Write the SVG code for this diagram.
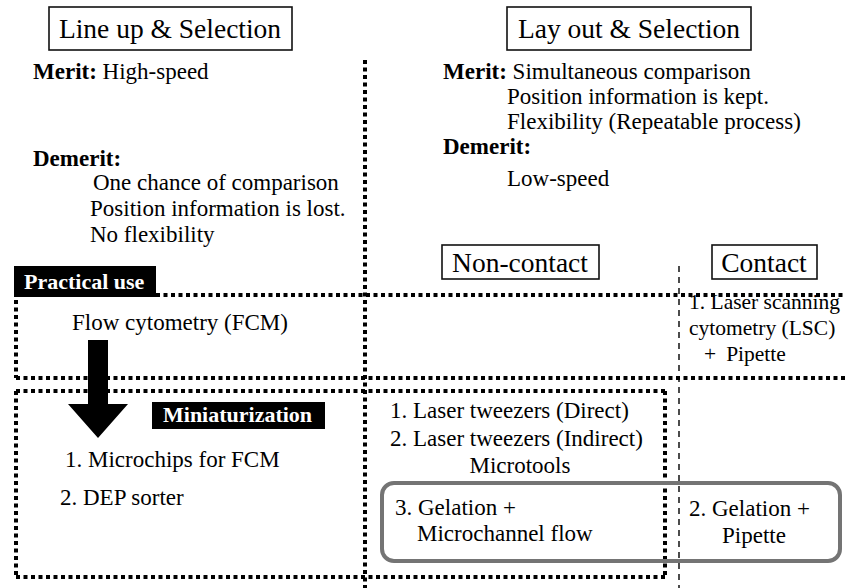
<svg xmlns="http://www.w3.org/2000/svg" width="846" height="588" viewBox="0 0 846 588">
  <style>
    text { font-family: "Liberation Serif", "Times New Roman", serif; fill: #000; }
    .title { font-size: 27.5px; text-anchor: middle; }
    .body { font-size: 23px; }
    .small { font-size: 21.5px; }
    .b { font-weight: bold; }
    .tag { font-size: 22px; font-weight: bold; fill: #fff; }
    .frame { fill: #fff; stroke: #111; stroke-width: 1.6; }
    .dot { fill: none; stroke: #000; stroke-width: 4; stroke-dasharray: 4 3.5; }
    .dash { fill: none; stroke: #000; stroke-width: 1.4; stroke-dasharray: 6 5; }
    .group { fill: none; stroke: #747474; stroke-width: 4; }
  </style>

  <!-- dotted and dashed dividers, plus the thick down arrow -->
  <g id="connectors">
    <line class="dot" x1="365" y1="60" x2="365" y2="588"/>
    <line class="dot" x1="156" y1="295" x2="846" y2="295"/>
    <line class="dot" x1="16" y1="300" x2="16" y2="378"/>
    <line class="dot" x1="16" y1="378" x2="846" y2="378"/>
    <line class="dot" x1="16" y1="391" x2="665" y2="391"/>
    <line class="dot" x1="16" y1="391" x2="16" y2="577"/>
    <line class="dot" x1="16" y1="577" x2="665" y2="577"/>
    <line class="dot" x1="665" y1="391" x2="665" y2="577"/>
    <line class="dash" x1="679" y1="266" x2="679" y2="588"/>
    <path d="M88 340 H108 V404 H128 L98 438 L68 404 H88 Z" fill="#000"/>
  </g>

  <g id="lineup">
    <rect class="frame" x="49" y="7" width="243" height="43"/>
    <text class="title" x="170" y="38">Line up &amp; Selection</text>
    <text class="body" x="33" y="79"><tspan class="b">Merit:</tspan> High-speed</text>
    <text class="body b" x="33" y="166">Demerit:</text>
    <text class="body" x="93" y="190">One chance of comparison</text>
    <text class="body" x="90" y="216">Position information is lost.</text>
    <text class="body" x="90" y="242">No flexibility</text>
  </g>

  <g id="layout">
    <rect class="frame" x="507" y="7" width="244" height="43"/>
    <text class="title" x="629" y="38">Lay out &amp; Selection</text>
    <text class="body" x="443" y="79"><tspan class="b">Merit:</tspan> Simultaneous comparison</text>
    <text class="body" x="507" y="104">Position information is kept.</text>
    <text class="body" x="507" y="129">Flexibility (Repeatable process)</text>
    <text class="body b" x="443" y="154">Demerit:</text>
    <text class="body" x="507" y="186">Low-speed</text>
  </g>

  <g id="noncontact">
    <rect class="frame" x="442" y="245" width="157" height="34"/>
    <text class="title" x="520" y="272">Non-contact</text>
  </g>

  <g id="contact">
    <rect class="frame" x="712" y="245" width="105" height="34"/>
    <text class="title" x="764" y="272">Contact</text>
  </g>

  <g id="practical">
    <rect x="14" y="266" width="142" height="31" fill="#000"/>
    <text class="tag" x="24" y="289">Practical use</text>
    <text class="body" x="72" y="330">Flow cytometry (FCM)</text>
  </g>

  <g id="lsc">
    <text class="small" x="689" y="309">1. Laser scanning</text>
    <text class="small" x="689" y="335">cytometry (LSC)</text>
    <text class="small" x="704" y="361">+<tspan dx="10">Pipette</tspan></text>
  </g>

  <g id="miniaturization">
    <rect x="152" y="402" width="173" height="27" fill="#000"/>
    <text class="tag" x="163" y="422">Miniaturization</text>
    <text class="body" x="65" y="467">1. Microchips for FCM</text>
    <text class="body" x="60" y="505">2. DEP sorter</text>
  </g>

  <g id="tweezers">
    <text class="body" x="390" y="418">1. Laser tweezers (Direct)</text>
    <text class="body" x="390" y="446">2. Laser tweezers (Indirect)</text>
    <text class="body" x="520" y="473" text-anchor="middle">Microtools</text>
  </g>

  <g id="gelation">
    <rect class="group" x="382" y="483" width="458" height="78" rx="12"/>
    <text class="body" x="395" y="515">3. Gelation +</text>
    <text class="body" x="417" y="541">Microchannel flow</text>
    <text class="body" x="689" y="516">2. Gelation +</text>
    <text class="body" x="722" y="543">Pipette</text>
  </g>
</svg>
